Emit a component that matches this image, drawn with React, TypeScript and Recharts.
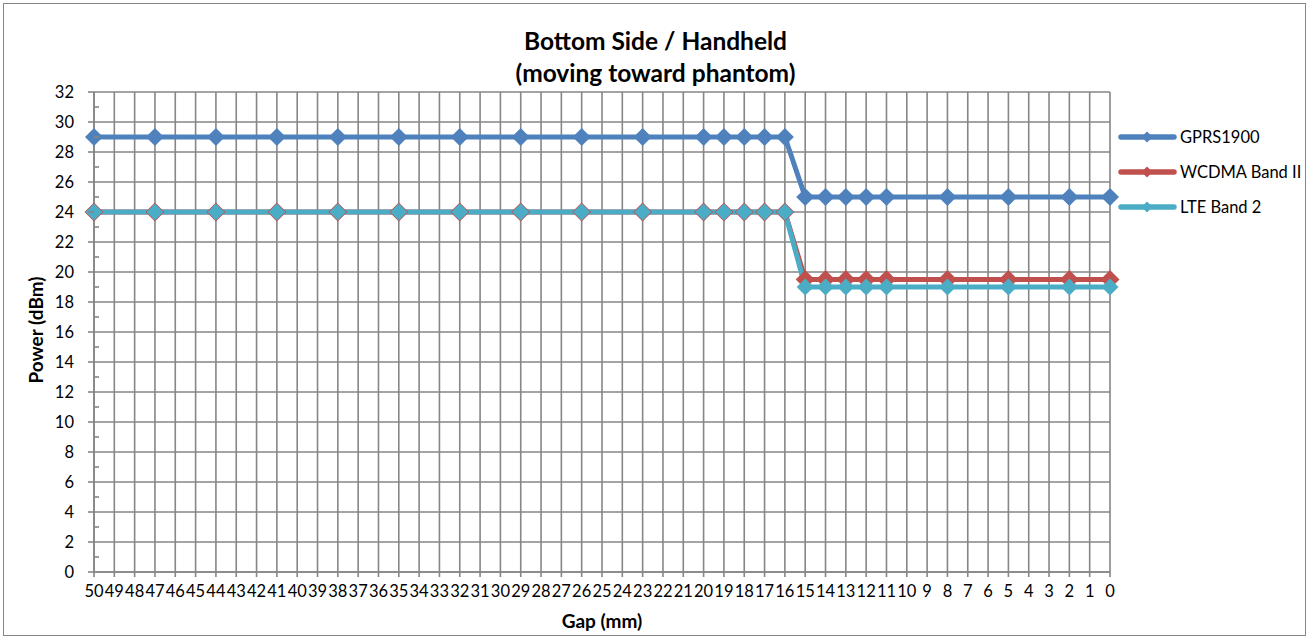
import React from 'react';
import { LineChart, Line, XAxis, YAxis, CartesianGrid } from 'recharts';

const gapLabels: number[] = [
  50, 49, 48, 47, 46, 45, 44, 43, 42, 41, 40, 39, 38, 37, 36, 35, 34, 33, 32, 31, 30,
  29, 28, 27, 26, 25, 24, 23, 22, 21, 20, 19, 18, 17, 16, 15, 14, 13, 12, 11, 10,
  9, 8, 7, 6, 5, 4, 3, 2, 1, 0,
];
const measuredGaps: number[] = [50, 47, 44, 41, 38, 35, 32, 29, 26, 23, 20, 19, 18, 17, 16, 15, 14, 13, 12, 11, 8, 5, 2, 0];
const gprs1900: number[] = [29, 29, 29, 29, 29, 29, 29, 29, 29, 29, 29, 29, 29, 29, 29, 25, 25, 25, 25, 25, 25, 25, 25, 25];
const wcdmaBand2: number[] = [24, 24, 24, 24, 24, 24, 24, 24, 24, 24, 24, 24, 24, 24, 24, 19.5, 19.5, 19.5, 19.5, 19.5, 19.5, 19.5, 19.5, 19.5];
const lteBand2: number[] = [24, 24, 24, 24, 24, 24, 24, 24, 24, 24, 24, 24, 24, 24, 24, 19, 19, 19, 19, 19, 19, 19, 19, 19];
const yTicks: number[] = Array.from({ length: 33 }, (_, i) => i);
const yMajor: number[] = [0, 2, 4, 6, 8, 10, 12, 14, 16, 18, 20, 22, 24, 26, 28, 30, 32];

const seriesDefs = [
  { key: 'gprs', name: 'GPRS1900', color: '#4F81BD', values: gprs1900, r: 9 },
  { key: 'wcdma', name: 'WCDMA Band II', color: '#C0504D', values: wcdmaBand2, r: 9.5 },
  { key: 'lte', name: 'LTE Band 2', color: '#4BACC6', values: lteBand2, r: 8.5 },
];

const data = gapLabels.map((g) => {
  const idx = measuredGaps.indexOf(g);
  const row: any = { gap: String(g) };
  seriesDefs.forEach((s) => {
    row[s.key] = idx >= 0 ? s.values[idx] : null;
  });
  return row;
});

const FONT = 'Lato, "Open Sans", sans-serif';
const GRID = '#868686';
const TICK_FS = 16.5;

const makeDiamond = (color: string, r: number) => (props: any) => {
  const { cx, cy, index } = props;
  if (cx == null || cy == null || props.value == null || (Array.isArray(props.value) && props.value[1] == null)) {
    return <g key={`d-${index}`} />;
  }
  return (
    <polygon
      key={`d-${index}`}
      points={`${cx},${cy - r} ${cx + r},${cy} ${cx},${cy + r} ${cx - r},${cy}`}
      fill={color}
    />
  );
};

const YTick = (props: any) => {
  const { x, y, payload } = props;
  const v = payload.value;
  const axisX = x + 6 + 14;
  if (v % 2 === 0) {
    return (
      <g>
        <line x1={axisX - 6} x2={axisX} y1={y} y2={y} stroke={GRID} strokeWidth={1.6} />
        <text x={x} y={y} textAnchor="end" dominantBaseline="central" fontFamily={FONT} fontSize={TICK_FS} fill="#000">
          {v}
        </text>
      </g>
    );
  }
  return <line x1={axisX} x2={axisX + 5} y1={y} y2={y} stroke={GRID} strokeWidth={1.6} />;
};

const XTick = (props: any) => {
  const { x, y, payload } = props;
  return (
    <text x={x} y={y} textAnchor="middle" dominantBaseline="hanging" fontFamily={FONT} fontSize={TICK_FS} fill="#000">
      {payload.value}
    </text>
  );
};

const LegendBox = () => (
  <div style={{ position: 'absolute', left: 1118, top: 119, fontFamily: FONT, fontSize: 16.5, color: '#000' }}>
    {seriesDefs.map((s) => (
      <div key={s.key} style={{ display: 'flex', alignItems: 'center', height: 35 }}>
        <svg width={60} height={16} style={{ marginRight: 2 }}>
          <line x1={3} x2={56} y1={8} y2={8} stroke={s.color} strokeWidth={5.5} strokeLinecap="round" />
          <polygon points="29,2.5 34.5,8 29,13.5 23.5,8" fill={s.color} />
        </svg>
        <span style={{ whiteSpace: 'nowrap' }}>{s.name}</span>
      </div>
    ))}
  </div>
);

export default function App() {
  return (
    <div style={{ position: 'absolute', left: 0, top: 0, width: 1309, height: 637, background: '#fff', overflow: 'hidden' }}>
      <div
        style={{
          position: 'absolute',
          left: 3,
          top: 3,
          width: 1303,
          height: 633,
          border: `1.5px solid ${GRID}`,
          boxSizing: 'border-box',
        }}
      />
      <div
        style={{
          position: 'absolute',
          left: 0,
          width: 1309,
          top: 25,
          textAlign: 'center',
          fontFamily: FONT,
          fontWeight: 700,
          fontSize: 24.5,
          lineHeight: '32px',
          color: '#000',
          paddingLeft: 1,
        }}
      >
        <div>Bottom Side / Handheld</div>
        <div>(moving toward phantom)</div>
      </div>
      <div
        style={{
          position: 'absolute',
          left: 35,
          top: 330,
          transform: 'translate(-50%, -50%) rotate(-90deg)',
          fontFamily: FONT,
          fontWeight: 700,
          fontSize: 19,
          whiteSpace: 'nowrap',
          color: '#000',
        }}
      >
        Power (dBm)
      </div>
      <div
        style={{
          position: 'absolute',
          left: 602,
          top: 620,
          transform: 'translate(-50%, -50%)',
          fontFamily: FONT,
          fontWeight: 700,
          fontSize: 19,
          whiteSpace: 'nowrap',
          color: '#000',
        }}
      >
        Gap (mm)
      </div>
      <div style={{ position: 'absolute', left: 0, top: 0 }}>
        <LineChart width={1309} height={637} data={data} margin={{ top: 92, right: 199, bottom: 0, left: 0 }}>
          <CartesianGrid
            stroke={GRID}
            strokeWidth={1.6}
            horizontalCoordinatesGenerator={(p: any) => {
              const sc = p?.yAxis?.scale;
              if (sc && typeof sc === 'function') return yMajor.map((v) => sc(v));
              const off = p.offset;
              return yMajor.map((v) => off.top + off.height * (1 - v / 32));
            }}
          />
          <XAxis
            dataKey="gap"
            interval={0}
            height={65}
            tick={<XTick />}
            tickSize={5}
            tickMargin={7}
            stroke={GRID}
            axisLine={{ stroke: GRID, strokeWidth: 1.6 }}
            tickLine={{ stroke: GRID, strokeWidth: 1.6 }}
          />
          <YAxis
            type="number"
            domain={[0, 32]}
            ticks={yTicks}
            interval={0}
            width={94}
            tickSize={6}
            tickMargin={14}
            tickLine={false}
            tick={<YTick />}
            axisLine={{ stroke: GRID, strokeWidth: 1.6 }}
          />
          {seriesDefs.map((s) => (
            <Line
              key={s.key}
              type="linear"
              dataKey={s.key}
              name={s.name}
              stroke={s.color}
              strokeWidth={5}
              connectNulls
              dot={makeDiamond(s.color, s.r)}
              activeDot={false}
              isAnimationActive={false}
            />
          ))}
        </LineChart>
      </div>
      <LegendBox />
    </div>
  );
}
